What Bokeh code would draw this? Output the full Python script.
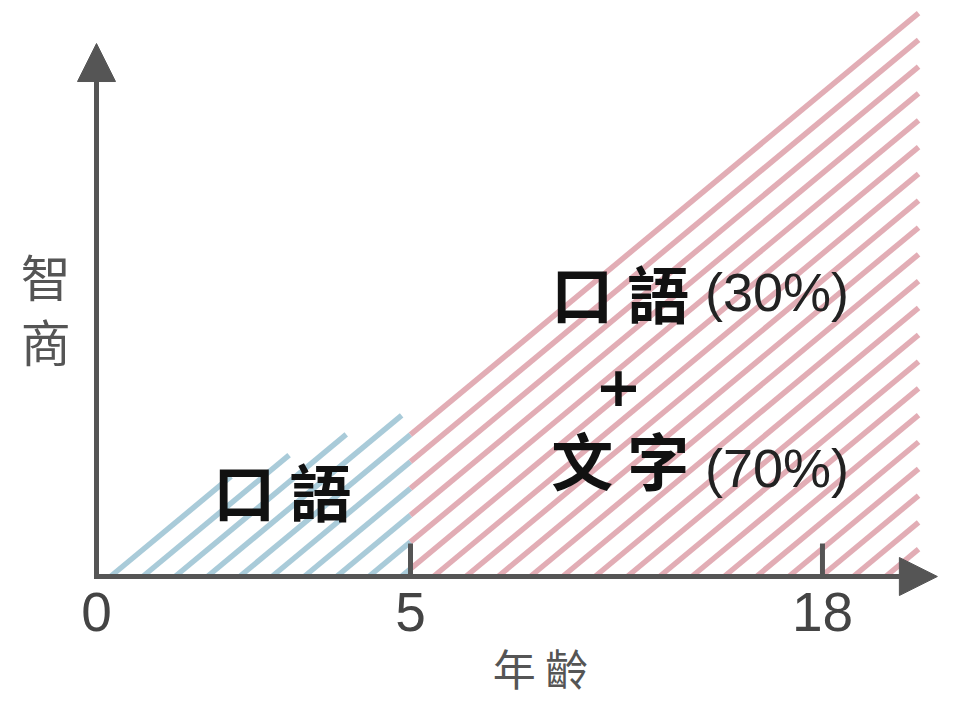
import math
from bokeh.plotting import figure
from bokeh.models import Range1d, Arrow, NormalHead, FixedTicker
from bokeh.core.properties import value
from bokeh.embed import file_html
from bokeh.resources import INLINE

# ---- data (schematic positions along the age axis) ----
tick_pos = [0, 50, 115.6]
tick_labels = ["0", "5", "18"]

oral_x = [0, 18.5, 28.2, 36.7, 46.0, 50.0, 50.0]
oral_y = [0, 16.5, 20.6, 23.8, 28.0, 28.9, 0]

mixed_x = [50.0, 65.1, 130.9, 130.9, 50.0]
mixed_y = [28.9, 40.6, 100.0, 0, 0]

tick_mark_x = [50, 115.6]
tick_mark_len = 5.85

CJK = "Noto Sans CJK TC"
AX = "#555555"

W, H = 939, 698
X0, X1 = -15.287, 134.236
Y0, Y1 = -21.631, 102.128
PX_X = W / (X1 - X0)
PX_Y = H / (Y1 - Y0)

# stripe (hatch) style: screen angle ~40 deg, 32 px apart
STRIPE_SLOPE = 0.83 * PX_X / PX_Y
STRIPE_STEP = 32.3 / PX_X
STRIPE_PHASE = 14.0 / PX_X


def stripes(xs, ys):
    """Clip a family of parallel stripe lines to the polygon (xs, ys)."""
    n = len(xs)
    cs = [x - y / STRIPE_SLOPE for x, y in zip(xs, ys)]
    k0 = math.floor((min(cs) - STRIPE_PHASE) / STRIPE_STEP) - 1
    k1 = math.ceil((max(cs) - STRIPE_PHASE) / STRIPE_STEP) + 1
    out_x, out_y = [], []
    for k in range(k0, k1 + 1):
        c = STRIPE_PHASE + k * STRIPE_STEP
        hits = []
        for i in range(n):
            xa, ya = xs[i], ys[i]
            xb, yb = xs[(i + 1) % n], ys[(i + 1) % n]
            fa = ya - STRIPE_SLOPE * (xa - c)
            fb = yb - STRIPE_SLOPE * (xb - c)
            if (fa > 0) != (fb > 0):
                t = fa / (fa - fb)
                hits.append(xa + t * (xb - xa))
        hits.sort()
        for a, b in zip(hits[0::2], hits[1::2]):
            out_x.append([a, b])
            out_y.append([STRIPE_SLOPE * (a - c), STRIPE_SLOPE * (b - c)])
    return out_x, out_y


p = figure(width=W, height=H, output_backend="svg", toolbar_location=None,
           x_range=Range1d(X0, X1), y_range=Range1d(Y0, Y1),
           min_border_left=0, min_border_right=0, min_border_top=0, min_border_bottom=0)
p.outline_line_color = None
p.grid.visible = False
p.yaxis.visible = False
p.background_fill_color = "white"

xa = p.xaxis[0]
xa.fixed_location = 0
xa.ticker = FixedTicker(ticks=tick_pos)
xa.major_label_overrides = {t: l for t, l in zip(tick_pos, tick_labels)}
xa.axis_line_color = None
xa.major_tick_line_color = None
xa.minor_tick_line_color = None
xa.major_tick_out = 0
xa.major_tick_in = 0
xa.major_label_standoff = 16
xa.major_label_text_font = "Liberation Sans"
xa.major_label_text_font_size = "55px"
xa.major_label_text_color = "#444444"

# hatched regions
bx, by = stripes(oral_x, oral_y)
p.multi_line(bx, by, line_color="#a9cbd9", line_width=5.5)
rx, ry = stripes(mixed_x, mixed_y)
p.multi_line(rx, ry, line_color="#e2adb5", line_width=5.5)

# tick marks
p.segment(x0=tick_mark_x, y0=[0, 0], x1=tick_mark_x, y1=[tick_mark_len] * 2,
          line_color=AX, line_width=5)

# axes with arrows
p.add_layout(Arrow(x_start=0, y_start=-0.4, x_end=0, y_end=94.5, line_color=AX, line_width=5,
                   end=NormalHead(size=38, fill_color=AX, line_color=AX)))
p.add_layout(Arrow(x_start=-0.4, y_start=0, x_end=133.9, y_end=0, line_color=AX, line_width=5,
                   end=NormalHead(size=38, fill_color=AX, line_color=AX)))

# texts
p.text(x=[29.6], y=[15.3], text=["口 語"], text_font=value(CJK), text_font_style="bold",
       text_font_size="62px", text_color="#111111", text_align="center", text_baseline="middle")
p.text(x=[94.4, 94.4], y=[50.5, 20.9], text=["口 語", "文 字"], text_font=value(CJK),
       text_font_style="bold", text_font_size="62px", text_color="#111111",
       text_align="right", text_baseline="middle")
p.text(x=[96.9, 96.9], y=[50.5, 19.3], text=["(30%)", "(70%)"], text_font=value("Liberation Sans"),
       text_font_size="54px", text_color="#222222", text_align="left", text_baseline="middle")
p.text(x=[83.1], y=[33.7], text=["+"], text_font=value("DejaVu Sans"), text_font_style="bold",
       text_font_size="56px", text_color="#111111", text_align="center", text_baseline="middle")
p.text(x=[-8.1, -8.1], y=[53.4, 42.0], text=["智", "商"], text_font=value(CJK),
       text_font_size="50px", text_color=AX, text_align="center", text_baseline="middle")
p.text(x=[70.7], y=[-16.1], text=["年 齡"], text_font=value(CJK),
       text_font_size="43px", text_color=AX, text_align="center", text_baseline="middle")

open("out.html", "w").write(file_html(p, INLINE))
